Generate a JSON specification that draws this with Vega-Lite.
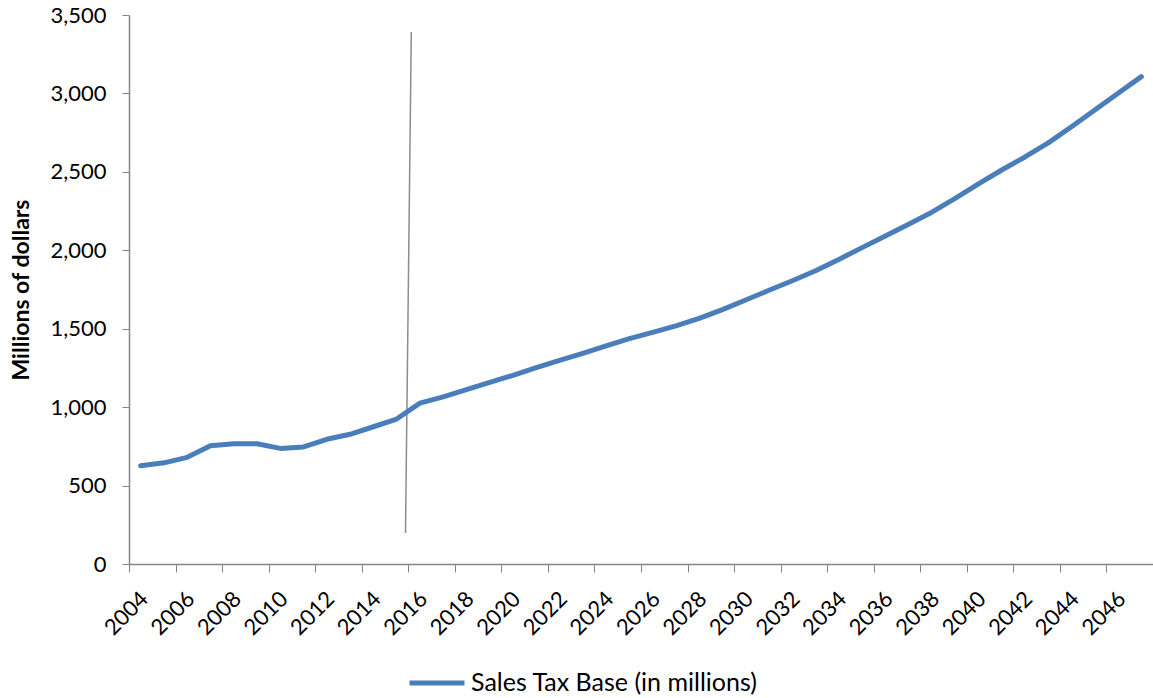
{
  "$schema": "https://vega.github.io/schema/vega-lite/v6.json",
  "autosize": {"type": "none"},
  "width": 1024,
  "height": 549,
  "padding": {"left": 129, "top": 15, "right": 0, "bottom": 134},
  "background": "white",
  "config": {
    "view": {"stroke": null},
    "font": "Lato",
    "axis": {
      "labelFont": "Lato",
      "labelFontSize": 22,
      "labelColor": "#000000",
      "domainColor": "#868686",
      "tickColor": "#868686",
      "grid": false
    }
  },
  "datasets": {
    "base": [
      {"year": 2004, "value": 626},
      {"year": 2005, "value": 645},
      {"year": 2006, "value": 680},
      {"year": 2007, "value": 754},
      {"year": 2008, "value": 767},
      {"year": 2009, "value": 767},
      {"year": 2010, "value": 737},
      {"year": 2011, "value": 746},
      {"year": 2012, "value": 795},
      {"year": 2013, "value": 827},
      {"year": 2014, "value": 875},
      {"year": 2015, "value": 924},
      {"year": 2016, "value": 1026},
      {"year": 2017, "value": 1066},
      {"year": 2018, "value": 1112},
      {"year": 2019, "value": 1158},
      {"year": 2020, "value": 1203},
      {"year": 2021, "value": 1252},
      {"year": 2022, "value": 1298},
      {"year": 2023, "value": 1343},
      {"year": 2024, "value": 1390},
      {"year": 2025, "value": 1437},
      {"year": 2026, "value": 1477},
      {"year": 2027, "value": 1518},
      {"year": 2028, "value": 1566},
      {"year": 2029, "value": 1622},
      {"year": 2030, "value": 1683},
      {"year": 2031, "value": 1745},
      {"year": 2032, "value": 1806},
      {"year": 2033, "value": 1870},
      {"year": 2034, "value": 1942},
      {"year": 2035, "value": 2017},
      {"year": 2036, "value": 2091},
      {"year": 2037, "value": 2166},
      {"year": 2038, "value": 2243},
      {"year": 2039, "value": 2331},
      {"year": 2040, "value": 2424},
      {"year": 2041, "value": 2512},
      {"year": 2042, "value": 2595},
      {"year": 2043, "value": 2685},
      {"year": 2044, "value": 2788},
      {"year": 2045, "value": 2894},
      {"year": 2046, "value": 3001},
      {"year": 2047, "value": 3107}
    ],
    "divider": [
      {"year_top": 2015.63, "year_bottom": 2015.38, "top": 3392, "bottom": 198}
    ]
  },
  "layer": [
    {
      "data": {"name": "divider"},
      "mark": {"type": "rule", "color": "#8c8c8c", "strokeWidth": 1.5},
      "encoding": {
        "x": {"field": "year_top", "type": "quantitative"},
        "x2": {"field": "year_bottom"},
        "y": {"field": "top", "type": "quantitative"},
        "y2": {"field": "bottom"}
      }
    },
    {
      "data": {"name": "base"},
      "mark": {"type": "line", "strokeWidth": 5, "strokeCap": "round", "strokeJoin": "round"},
      "encoding": {
        "x": {
          "field": "year",
          "type": "quantitative",
          "scale": {"domain": [2003.5, 2047.5], "nice": false, "zero": false},
          "axis": {
            "title": null,
            "values": [2003.5, 2004.5, 2005.5, 2006.5, 2007.5, 2008.5, 2009.5, 2010.5, 2011.5, 2012.5, 2013.5, 2014.5, 2015.5, 2016.5, 2017.5, 2018.5, 2019.5, 2020.5, 2021.5, 2022.5, 2023.5, 2024.5, 2025.5, 2026.5, 2027.5, 2028.5, 2029.5, 2030.5, 2031.5, 2032.5, 2033.5, 2034.5, 2035.5, 2036.5, 2037.5, 2038.5, 2039.5, 2040.5, 2041.5, 2042.5, 2043.5, 2044.5, 2045.5, 2046.5, 2047.5],
            "labelExpr": "((datum.value + 0.5) % 2 == 0 && datum.value < 2047) ? format(datum.value + 0.5, 'd') : ''",
            "labelAngle": -45,
            "labelAlign": "right",
            "labelBaseline": "top",
            "labelOffset": 8,
            "labelPadding": 16,
            "labelOverlap": false,
            "labelBound": false,
            "labelFlush": false,
            "tickSize": 8,
            "tickWidth": 1,
            "domainWidth": 1.5
          }
        },
        "y": {
          "field": "value",
          "type": "quantitative",
          "scale": {"domain": [0, 3500], "nice": false},
          "axis": {
            "title": "Millions of dollars",
            "titleFont": "Lato",
            "titleFontSize": 23,
            "titleFontWeight": "bold",
            "titleColor": "#000000",
            "titlePadding": 16,
            "values": [0, 500, 1000, 1500, 2000, 2500, 3000, 3500],
            "format": ",d",
            "tickSize": 7,
            "labelPadding": 16,
            "domainWidth": 1.5
          }
        },
        "color": {
          "datum": "Sales Tax Base (in millions)",
          "scale": {"range": ["#4a7ebb"]},
          "legend": {
            "title": null,
            "orient": "none",
            "legendX": 278,
            "legendY": 638,
            "symbolType": "stroke",
            "symbolSize": 3025,
            "symbolStrokeWidth": 5,
            "labelFont": "Lato",
            "labelFontSize": 25,
            "labelColor": "#000000",
            "labelOffset": 4,
            "labelLimit": 500
          }
        }
      }
    }
  ]
}
